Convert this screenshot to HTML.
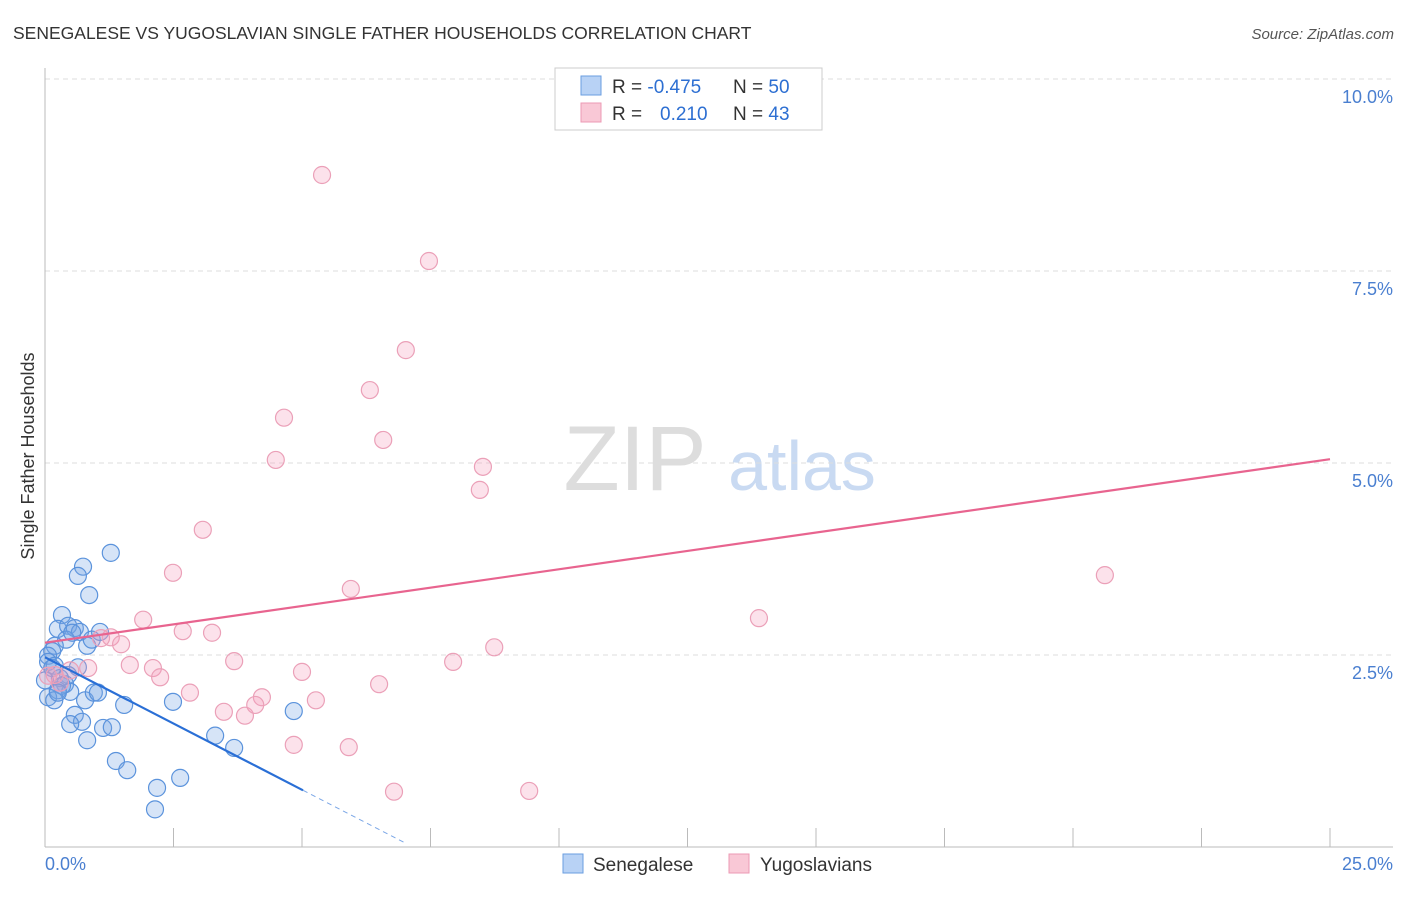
<!DOCTYPE html>
<html><head><meta charset="utf-8"><style>
body{margin:0;background:#fff;font-family:"Liberation Sans",sans-serif}
svg text{font-family:"Liberation Sans",sans-serif}
</style></head><body>
<svg id="chart" width="1406" height="892">
<text x="13" y="39" font-size="17.5" fill="#333">SENEGALESE VS YUGOSLAVIAN SINGLE FATHER HOUSEHOLDS CORRELATION CHART</text>
<text x="1394" y="39" font-size="15" fill="#555" font-style="italic" text-anchor="end">Source: ZipAtlas.com</text>
<g><text x="635" y="490" font-size="92" fill="#ddd" font-family="Liberation Serif" text-anchor="middle">ZIP</text><text x="802" y="490" font-size="70" fill="#c9daf2" text-anchor="middle">atlas</text></g>
<g id="grid"></g>
<line x1="45" y1="68" x2="45" y2="847" stroke="#bbb"/>
<line x1="45" y1="847" x2="1393" y2="847" stroke="#bbb"/>
<text transform="translate(34,456) rotate(-90)" font-size="18" fill="#333" text-anchor="middle">Single Father Households</text>
<text x="45" y="870" font-size="18" fill="#4a7fd0">0.0%</text>
<text x="1393" y="870" font-size="18" fill="#4a7fd0" text-anchor="end">25.0%</text>
<g id="points"></g>
<g id="trends"></g>
<g>
<rect x="555" y="68" width="267" height="62" fill="#fff" stroke="#ccc"/>
<rect x="581" y="76" width="20" height="19" fill="#b8d2f5" stroke="#6a9ee0"/>
<rect x="581" y="103" width="20" height="19" fill="#f9c8d6" stroke="#ec9ab4"/>
<text x="612" y="93" font-size="19" fill="#333">R = <tspan fill="#2d6fd2">-0.475</tspan><tspan x="733">N = </tspan><tspan fill="#2d6fd2">50</tspan></text>
<text x="612" y="120" font-size="19" fill="#333">R = <tspan x="660" fill="#2d6fd2">0.210</tspan><tspan x="733">N = </tspan><tspan fill="#2d6fd2">43</tspan></text>
</g>
<g><rect x="563" y="854" width="20" height="19" fill="#b8d2f5" stroke="#6a9ee0"/><text x="593" y="871" font-size="19" fill="#333">Senegalese</text></g>
<g><rect x="729" y="854" width="20" height="19" fill="#f9c8d6" stroke="#ec9ab4"/><text x="760" y="871" font-size="19" fill="#333">Yugoslavians</text></g>
</svg>
<script>
const yTicks=[2.5,5,7.5,10];
const yTickLabels=["2.5%","5.0%","7.5%","10.0%"];
const xTicks=[2.5,5,7.5,10,12.5,15,17.5,20,22.5,25];
const senX=[1.28,.74,.64,.86,.33,.25,.45,.58,.68,.41,.19,.14,.82,.06,.06,.19,.64,.45,.29,.39,.25,.49,.06,.18,.78,.95,1.03,1.54,2.49,4.84,.58,.72,.49,.82,1.13,1.30,3.31,3.68,1.38,1.60,2.18,2.63,2.14,.14,.33,.25,0,.53,.91,1.07];
const senY=[3.83,3.65,3.53,3.28,3.02,2.84,2.88,2.85,2.80,2.70,2.62,2.55,2.62,2.49,2.41,2.36,2.34,2.24,2.20,2.12,2.04,2.02,1.95,1.91,1.91,2.01,2.01,1.85,1.89,1.77,1.72,1.63,1.60,1.39,1.55,1.56,1.45,1.29,1.12,1.00,.77,.90,.49,2.33,2.10,2.01,2.17,2.79,2.70,2.80];
const yugX=[5.39,7.47,7.02,6.32,4.65,6.58,4.49,8.52,8.46,3.07,2.49,5.95,20.62,13.89,1.91,2.68,3.25,1.28,1.09,1.48,8.74,3.68,7.94,1.65,2.10,2.24,5.00,.49,.84,.19,2.82,4.22,6.50,5.27,3.48,3.89,4.09,4.84,5.91,6.79,9.42,.29,.06];
const yugY=[8.75,7.63,6.47,5.95,5.59,5.30,5.04,4.95,4.65,4.13,3.57,3.36,3.54,2.98,2.96,2.81,2.79,2.73,2.72,2.64,2.60,2.42,2.41,2.37,2.33,2.21,2.28,2.30,2.33,2.24,2.01,1.95,2.12,1.91,1.76,1.71,1.85,1.33,1.30,.72,.73,2.14,2.23];
const senTrend=[2.47,-0.345]; // intercept, slope
const yugTrend=[2.66,0.0956];
const NS="http://www.w3.org/2000/svg";
const X=v=>45+v*51.4, Y=v=>847-v*76.8;
function mk(p,tag,a){const e=document.createElementNS(NS,tag);for(const k in a)e.setAttribute(k,a[k]);p.appendChild(e);return e;}
const grid=document.getElementById('grid');
yTicks.forEach((t,i)=>{
 const l=mk(grid,'line',{x1:45,x2:1393,y1:Y(t),y2:Y(t),stroke:'#ddd','stroke-dasharray':'5,4'});
 
 
 const tx=mk(grid,'text',{x:1393,y:Y(t)+24,'font-size':18,fill:'#4a7fd0','text-anchor':'end'});
 tx.textContent=yTickLabels[i];
 
 
});
xTicks.forEach(t=>{
 const l=mk(grid,'line',{x1:X(t),x2:X(t),y1:828,y2:847,stroke:'#bbb'});
 
 
});
const pts=document.getElementById('points');
senX.forEach((x,i)=>{
 const c=mk(pts,'circle',{cx:X(x),cy:Y(senY[i]),r:8.5,fill:'rgba(120,165,230,0.3)',stroke:'#5b93dc','stroke-width':1.2});
 
 
});
yugX.forEach((x,i)=>{
 const c=mk(pts,'circle',{cx:X(x),cy:Y(yugY[i]),r:8.5,fill:'rgba(245,160,190,0.3)',stroke:'#eba0b8','stroke-width':1.2});
 
 
});
const tr=document.getElementById('trends');
const f=(t,x)=>t[0]+t[1]*x;
let l=mk(tr,'line',{x1:X(0),y1:Y(f(senTrend,0)),x2:X(5.02),y2:Y(f(senTrend,5.02)),stroke:'#2a6fd6','stroke-width':2.2});


l=mk(tr,'line',{x1:X(5.02),y1:Y(f(senTrend,5.02)),x2:X(7.0),y2:Y(f(senTrend,7.0)),stroke:'#7aa6e6','stroke-width':1,'stroke-dasharray':'5,4'});


l=mk(tr,'line',{x1:X(0),y1:Y(f(yugTrend,0)),x2:X(25),y2:Y(f(yugTrend,25)),stroke:'#e8648f','stroke-width':2.2});


</script>
</body></html>
